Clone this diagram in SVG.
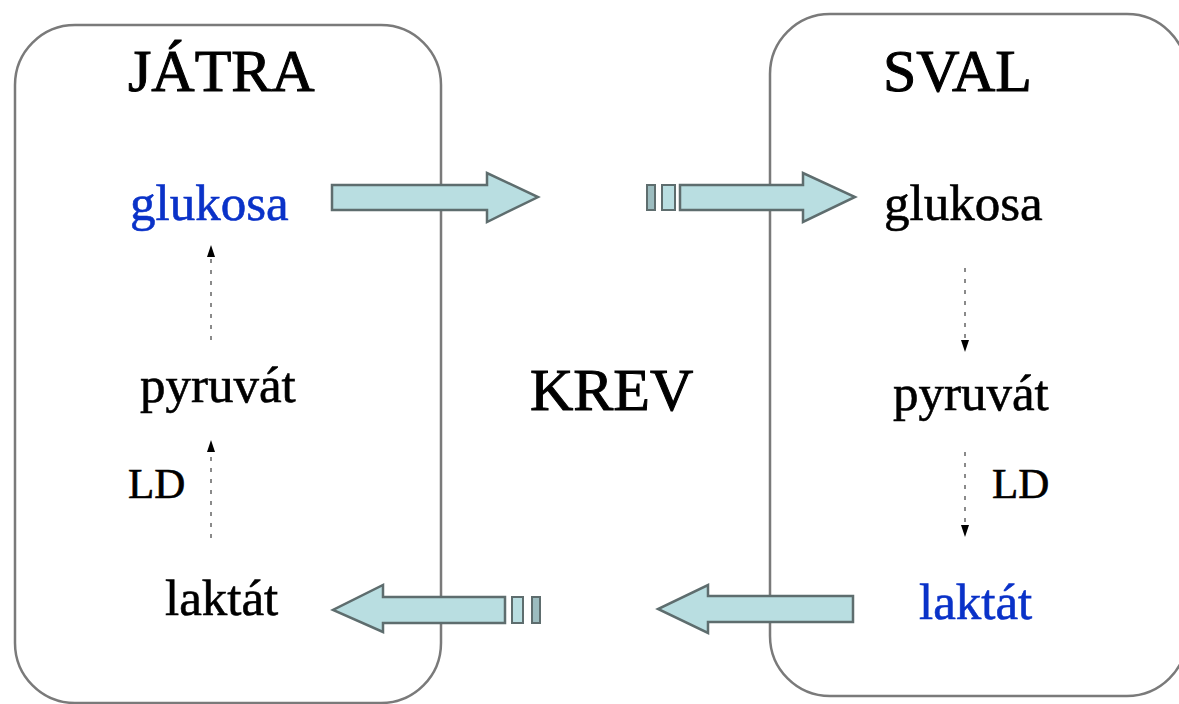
<svg xmlns="http://www.w3.org/2000/svg" width="1179" height="704" viewBox="0 0 1179 704">
<defs>
<style>
.box{fill:#fff;stroke:#7a7a7a;stroke-width:2.5}
.t{font-family:"Liberation Serif","Times New Roman",serif;fill:#000;stroke:#000;stroke-width:0.6}
.title{font-size:60px;stroke-width:1}
.w{font-size:51px}
.ld{font-size:43px}
.blue{fill:#0a32c8;stroke:#0a32c8}
.arr{fill:#b9dee1;stroke:#5e6d6e;stroke-width:2.5;stroke-linejoin:miter}
.sq{fill:#b9dee1;stroke:#5e6d6e;stroke-width:2}
.sqd{fill:#9cbcbf;stroke:#5e6d6e;stroke-width:2}
.dot{stroke:#8a8a8a;stroke-width:2;stroke-dasharray:4 7;fill:none}
.head{fill:#000}
</style>
</defs>
<rect width="1179" height="704" fill="#fff"/>
<g id="jatra">
<rect class="box" x="15" y="25" width="426" height="678" rx="60" ry="60"/>
<text class="t title" x="128" y="91">JÁTRA</text>
</g>
<g id="sval">
<rect class="box" x="770" y="14" width="417" height="682" rx="60" ry="60"/>
<text class="t title" x="883" y="91">SVAL</text>
</g>
<g id="krev">
<text class="t title" x="530" y="410">KREV</text>
</g>
<g id="jatra-glukosa"><text class="t w blue" x="130" y="220">glukosa</text></g>
<g id="jatra-pyruvat"><text class="t w" x="140" y="402">pyruvát</text></g>
<g id="jatra-ld"><text class="t ld" x="128" y="498">LD</text></g>
<g id="jatra-laktat"><text class="t w" x="165" y="615">laktát</text></g>
<g id="sval-glukosa"><text class="t w" x="884" y="220">glukosa</text></g>
<g id="sval-pyruvat"><text class="t w" x="893" y="410">pyruvát</text></g>
<g id="sval-ld"><text class="t ld" x="992" y="498">LD</text></g>
<g id="sval-laktat"><text class="t w blue" x="919" y="619">laktát</text></g>
<g id="connectors">
<path class="arr" d="M332,185 H487 V173 L538,197 L487,222 V210 H332 Z"/>
<rect class="sqd" x="647" y="185" width="8" height="25"/>
<rect class="sq" x="662" y="185" width="13" height="25"/>
<path class="arr" d="M680,185 H803 V173 L855,197 L803,222 V210 H680 Z"/>
<path class="arr" d="M505,597 H383 V585 L333,610 L383,632 V623 H505 Z"/>
<rect class="sq" x="512" y="597" width="11" height="26"/>
<rect class="sqd" x="532" y="597" width="8" height="26"/>
<path class="arr" d="M853,596 H708 V585 L658,609 L708,633 V622 H853 Z"/>
<line class="dot" x1="211" y1="340" x2="211" y2="256"/>
<path class="head" d="M211,245 L215,257 L207,257 Z"/>
<line class="dot" x1="211" y1="538" x2="211" y2="451"/>
<path class="head" d="M211,440 L215,452 L207,452 Z"/>
<line class="dot" x1="965" y1="268" x2="965" y2="341"/>
<path class="head" d="M965,352 L961,340 L969,340 Z"/>
<line class="dot" x1="965" y1="452" x2="965" y2="526"/>
<path class="head" d="M965,537 L961,525 L969,525 Z"/>
</g>
</svg>
